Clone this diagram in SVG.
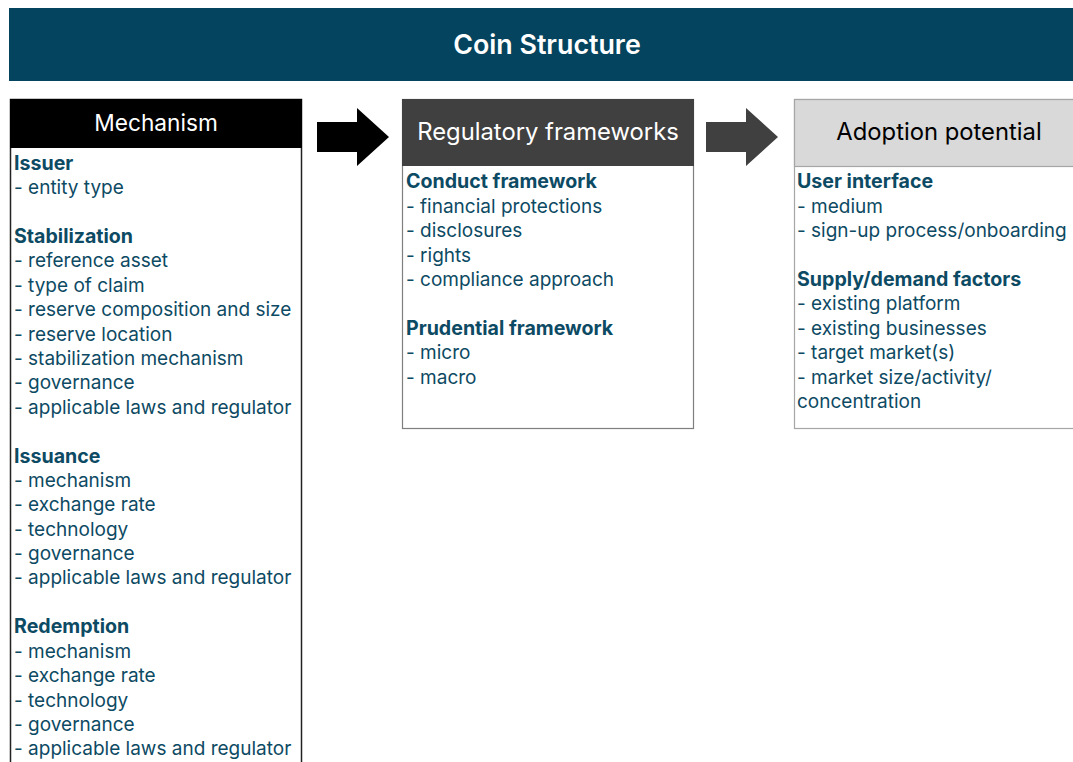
<svg xmlns="http://www.w3.org/2000/svg" width="1073" height="762" viewBox="0 0 1073 762">
<style>
.t{font-family:Inter,"Open Sans","Liberation Sans",sans-serif;font-size:19px;fill:#0d4a63}
.b{font-weight:bold;font-size:19.6px}
.h{font-family:Inter,"Open Sans","Liberation Sans",sans-serif;font-size:23.8px;text-anchor:middle}
</style>
<rect width="1073" height="762" fill="#ffffff"/>
<g id="title">
<rect x="9" y="8" width="1064" height="73" fill="#04445e"/>
<text x="547" y="54" font-family="Inter,Open Sans,sans-serif" font-size="26.8" font-weight="600" fill="#ffffff" text-anchor="middle">Coin Structure</text>
</g>
<g id="mechanism">
<rect x="10.5" y="99.5" width="291" height="700" fill="#ffffff" stroke="#222222" stroke-width="1.5"/>
<rect x="10" y="99" width="292" height="49" fill="#000000"/>
<text class="h" x="156" y="131" fill="#ffffff" style="font-size:22.7px">Mechanism</text>
<text class="t b" x="14" y="170">Issuer</text>
<text class="t" x="14" y="194">- entity type</text>
<text class="t b" x="14" y="243">Stabilization</text>
<text class="t" x="14" y="267">- reference asset</text>
<text class="t" x="14" y="292">- type of claim</text>
<text class="t" x="14" y="316">- reserve composition and size</text>
<text class="t" x="14" y="341">- reserve location</text>
<text class="t" x="14" y="365">- stabilization mechanism</text>
<text class="t" x="14" y="389">- governance</text>
<text class="t" x="14" y="414">- applicable laws and regulator</text>
<text class="t b" x="14" y="463">Issuance</text>
<text class="t" x="14" y="487">- mechanism</text>
<text class="t" x="14" y="511">- exchange rate</text>
<text class="t" x="14" y="536">- technology</text>
<text class="t" x="14" y="560">- governance</text>
<text class="t" x="14" y="584">- applicable laws and regulator</text>
<text class="t b" x="14" y="633">Redemption</text>
<text class="t" x="14" y="658">- mechanism</text>
<text class="t" x="14" y="682">- exchange rate</text>
<text class="t" x="14" y="707">- technology</text>
<text class="t" x="14" y="731">- governance</text>
<text class="t" x="14" y="755">- applicable laws and regulator</text>
</g>
<g id="regulatory">
<rect x="402.5" y="99.5" width="291" height="329" fill="#ffffff" stroke="#7f7f7f" stroke-width="1.2"/>
<rect x="402" y="99" width="292" height="67" fill="#404040"/>
<text class="h" x="548" y="140" fill="#ffffff">Regulatory frameworks</text>
<text class="t b" x="406" y="188">Conduct framework</text>
<text class="t" x="406" y="213">- financial protections</text>
<text class="t" x="406" y="237">- disclosures</text>
<text class="t" x="406" y="262">- rights</text>
<text class="t" x="406" y="286">- compliance approach</text>
<text class="t b" x="406" y="335">Prudential framework</text>
<text class="t" x="406" y="359">- micro</text>
<text class="t" x="406" y="384">- macro</text>
</g>
<g id="adoption">
<rect x="794.5" y="99.5" width="300" height="329" fill="#ffffff" stroke="#a6a6a6" stroke-width="1.2"/>
<rect x="794" y="99" width="300" height="67" fill="#d9d9d9"/>
<rect x="794.5" y="99.5" width="300" height="67" fill="none" stroke="#a6a6a6" stroke-width="1.2"/>
<text class="h" x="939" y="140" fill="#000000">Adoption potential</text>
<text class="t b" x="797" y="188">User interface</text>
<text class="t" x="797" y="213">- medium</text>
<text class="t" x="797" y="237">- sign-up process/onboarding</text>
<text class="t b" x="797" y="286">Supply/demand factors</text>
<text class="t" x="797" y="310">- existing platform</text>
<text class="t" x="797" y="335">- existing businesses</text>
<text class="t" x="797" y="359">- target market(s)</text>
<text class="t" x="797" y="384">- market size/activity/</text>
<text class="t" x="797" y="408">concentration</text>
</g>
<g id="connectors">
<polygon points="317,122 357,122 357,108 389,137 357,166 357,152 317,152" fill="#000000"/>
<polygon points="706,122 746,122 746,108 778,137 746,166 746,152 706,152" fill="#404040"/>
</g>
</svg>
